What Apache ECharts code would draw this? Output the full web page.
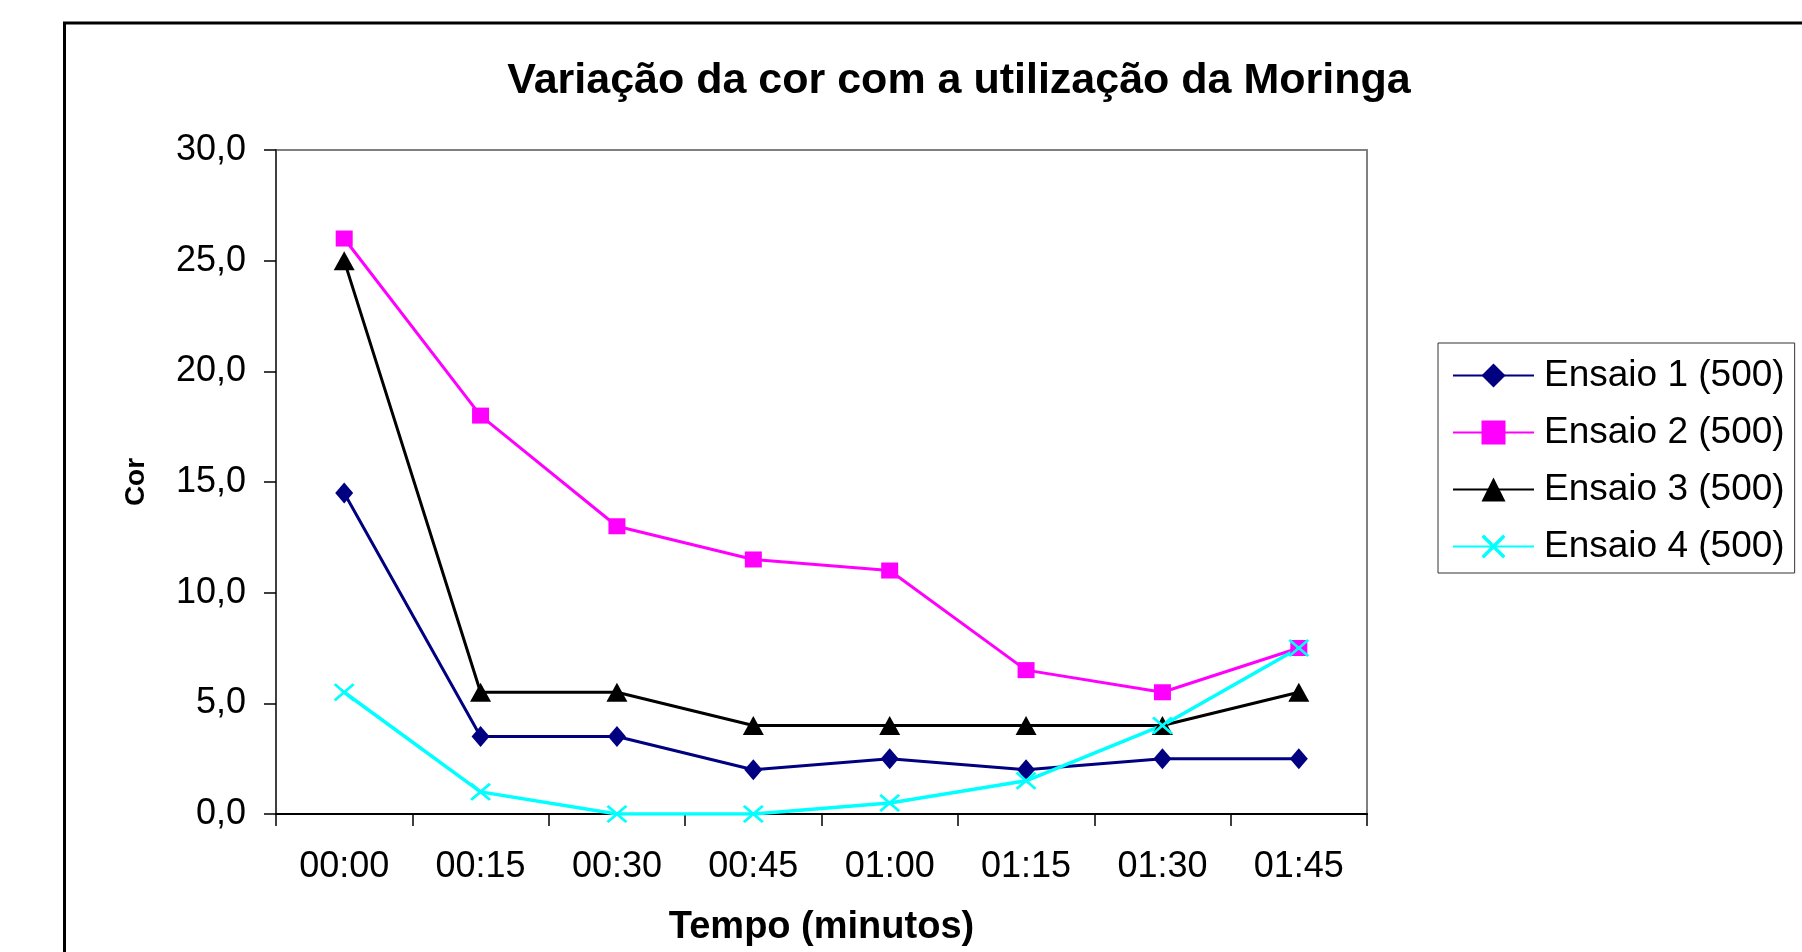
<!DOCTYPE html>
<html>
<head>
<meta charset="utf-8">
<title>Variação da cor com a utilização da Moringa</title>
<script src="https://cdn.jsdelivr.net/npm/echarts@6/dist/echarts.min.js"></script>
<style>
  html, body { margin: 0; padding: 0; background: #fff; }
  #chart { width: 1802px; height: 952px; }
</style>
</head>
<body>
<div id="chart"></div>
<script>
// dados
const categories = ['00:00', '00:15', '00:30', '00:45', '01:00', '01:15', '01:30', '01:45'];
const seriesNames = ['Ensaio 1 (500)', 'Ensaio 2 (500)', 'Ensaio 3 (500)', 'Ensaio 4 (500)'];
const ensaio1 = [14.5, 3.5, 3.5, 2.0, 2.5, 2.0, 2.5, 2.5];
const ensaio2 = [26.0, 18.0, 13.0, 11.5, 11.0, 6.5, 5.5, 7.5];
const ensaio3 = [25.0, 5.5, 5.5, 4.0, 4.0, 4.0, 4.0, 5.5];
const ensaio4 = [5.5, 1.0, 0.0, 0.0, 0.5, 1.5, 4.0, 7.5];

const FONT = "'Liberation Sans', Arial, sans-serif";
// marcador em X (preenchido)
const xSymbol = 'path://M0,1 L1,0 L5,4 L9,0 L10,1 L6,5 L10,9 L9,10 L5,6 L1,10 L0,9 L4,5 Z';

const chart = echarts.init(document.getElementById('chart'), null, { renderer: 'canvas' });

function lineSeries(name, data, color, symbol, symbolSize, width) {
  return {
    name: name,
    type: 'line',
    data: data,
    symbol: symbol,
    symbolSize: symbolSize,
    showAllSymbol: true,
    lineStyle: { color: color, width: width },
    itemStyle: { color: color, opacity: 1 },
    emphasis: { disabled: true },
    animation: false
  };
}

const option = {
  backgroundColor: '#ffffff',
  animation: false,
  title: {
    text: 'Variação da cor com a utilização da Moringa',
    left: 954,
    textAlign: 'center',
    top: 55,
    textStyle: { fontFamily: FONT, fontSize: 43, fontWeight: 'bold', color: '#000' }
  },
  graphic: [
    {
      type: 'rect',
      shape: { x: 64.5, y: 23, width: 2000, height: 2000 },
      style: { fill: 'none', stroke: '#000', lineWidth: 3 },
      silent: true
    }
  ],
  legend: {
    orient: 'vertical',
    left: 1438,
    top: 343,
    padding: [14, 10, 8, 14],
    itemGap: 20,
    itemWidth: 81,
    itemHeight: 30,
    borderColor: '#333',
    borderWidth: 1,
    data: seriesNames,
    textStyle: { fontFamily: FONT, fontSize: 37, color: '#000', padding: [0, 0, 0, 5] }
  },
  grid: {
    left: 276,
    top: 150,
    width: 1091,
    height: 665,
    show: true,
    borderColor: '#808080',
    borderWidth: 2,
    containLabel: false
  },
  xAxis: {
    type: 'category',
    data: categories,
    boundaryGap: true,
    name: 'Tempo (minutos)',
    nameLocation: 'middle',
    nameGap: 95,
    nameTextStyle: { fontFamily: FONT, fontSize: 38, fontWeight: 'bold', color: '#000' },
    axisLine: { lineStyle: { color: '#000', width: 2 } },
    axisTick: { show: true, inside: false, length: 12, alignWithLabel: false, lineStyle: { color: '#000', width: 1.5 } },
    axisLabel: { margin: 35, fontFamily: FONT, fontSize: 36, color: '#000' },
    splitLine: { show: false }
  },
  yAxis: {
    type: 'value',
    min: 0,
    max: 30,
    interval: 5,
    name: 'Cor',
    nameLocation: 'middle',
    nameRotate: 90,
    nameGap: 126,
    nameTextStyle: { fontFamily: FONT, fontSize: 28, fontWeight: 'bold', color: '#000' },
    axisLine: { show: true, lineStyle: { color: '#404040', width: 2 } },
    axisTick: { show: true, inside: false, length: 12, lineStyle: { color: '#000', width: 1.5 } },
    axisLabel: {
      margin: 30,
      fontFamily: FONT,
      fontSize: 36,
      color: '#000',
      formatter: v => v.toFixed(1).replace('.', ',')
    },
    splitLine: { show: false }
  },
  series: [
    lineSeries(seriesNames[0], ensaio1, '#000080', 'diamond', [18, 21], 3),
    lineSeries(seriesNames[1], ensaio2, '#FF00FF', 'rect', [17, 16], 3),
    lineSeries(seriesNames[2], ensaio3, '#000000', 'triangle', [21, 19], 3),
    lineSeries(seriesNames[3], ensaio4, '#00FFFF', xSymbol, [21, 18], 3.5)
  ]
};

chart.setOption(option);
</script>
</body>
</html>
